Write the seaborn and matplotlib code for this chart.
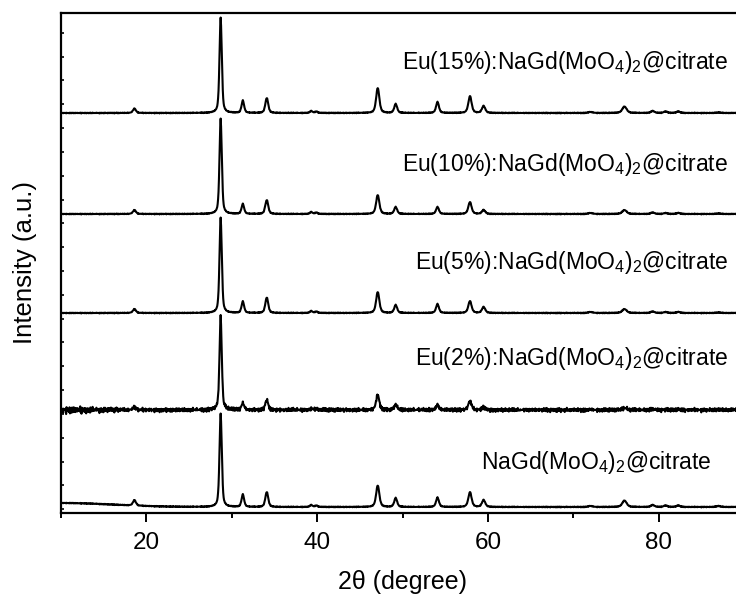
import numpy as np
import pandas as pd
import matplotlib
matplotlib.use("Agg")
import matplotlib.pyplot as plt
from matplotlib.ticker import FixedLocator, MultipleLocator, NullFormatter
import seaborn as sns

sns.set_theme(style="ticks")
plt.rcParams["font.family"] = ["Liberation Sans", "DejaVu Sans"]
plt.rcParams["mathtext.fontset"] = "custom"
plt.rcParams["mathtext.rm"] = "Liberation Sans"
plt.rcParams["mathtext.it"] = "Liberation Sans:italic"
plt.rcParams["mathtext.default"] = "regular"
for key in ["text.color", "axes.labelcolor", "xtick.color", "ytick.color",
            "axes.edgecolor"]:
    plt.rcParams[key] = "black"

# ---- data -------------------------------------------------------------
samples = [
    "NaGd(MoO$_4$)$_2$@citrate",
    "Eu(2%):NaGd(MoO$_4$)$_2$@citrate",
    "Eu(5%):NaGd(MoO$_4$)$_2$@citrate",
    "Eu(10%):NaGd(MoO$_4$)$_2$@citrate",
    "Eu(15%):NaGd(MoO$_4$)$_2$@citrate",
]
# vertical stacking offsets of each pattern
offsets = [6, 103, 200, 299, 400]

# reflections (2theta, degree) and their widths (FWHM, degree)
peak_pos = [18.6, 28.7, 31.3, 34.1, 39.3, 39.9, 47.1, 49.2, 54.1, 57.9,
            59.5, 72.0, 76.0, 79.3, 80.8, 82.3, 87.0]
peak_fwhm = [0.40, 0.32, 0.35, 0.40, 0.35, 0.35, 0.45, 0.40, 0.40, 0.45,
             0.45, 0.60, 0.60, 0.50, 0.50, 0.50, 0.60]

# peak intensities per sample (a.u.)
h_nagd = [5.5, 93, 12.5, 15, 2.0, 1.5, 21.5, 9, 9.5, 15, 7, 1.0, 6.5, 2.0, 1.5, 1.5, 1.0]
h_eu2 = [3.0, 93, 7.0, 10, 1.5, 1.0, 15.0, 5, 5.0, 9, 3, 0.5, 2.0, 1.0, 0.5, 0.5, 0.5]
h_eu5 = [4.0, 95, 11.5, 15.5, 2.0, 1.5, 21.0, 8, 9.0, 12, 6, 1.0, 4.0, 1.5, 1.0, 1.0, 0.5]
h_eu10 = [4.0, 95, 10.0, 14, 2.0, 1.5, 19.0, 7, 7.0, 12, 4, 1.0, 4.0, 1.5, 1.0, 1.0, 0.5]
h_eu15 = [4.4, 95, 12.4, 15, 2.0, 1.5, 25.0, 9, 11.0, 17, 7, 1.0, 6.5, 2.0, 1.5, 1.5, 0.5]
heights = [h_nagd, h_eu2, h_eu5, h_eu10, h_eu15]

# low-angle amorphous background height and counting noise level per sample
background = [4.0, 0.0, 0.0, 0.0, 0.0]
noise_level = [0.5, 2.4, 0.5, 0.5, 0.5]
noise_low_angle = [0.0, 2.6, 0.0, 0.0, 0.0]

# counting-statistics jitter (two tables of different length)
jitter_a = [0.3, -0.8, 0.5, 0.9, -0.4, -1.0, 0.2, 0.7, -0.6, 0.1, 0.95, -0.3,
            -0.85, 0.45, 0.05, -0.55, 0.8, -0.15, -0.95, 0.6, 0.25, -0.7, 0.4,
            0.85, -0.25, -0.6, 0.15, 1.0, -0.45, -0.05, 0.65, -0.9, 0.35, 0.1,
            -0.75, 0.55, 0.9, -0.35, -0.2, 0.75, -0.65, 0.0, 0.5, -1.0, 0.3,
            0.7, -0.5]
jitter_b = [-0.4, 0.6, 0.1, -0.9, 0.8, -0.2, 0.35, -0.65, 0.95, 0.0, -0.5,
            0.45, -0.8, 0.7, -0.1, 0.25, -0.95, 0.55, 0.15, -0.35, 0.85, -0.7,
            0.4, -0.05, 0.6, -0.55, 0.9, -0.3, 0.2, -0.85, 0.5, 0.05, -0.6,
            0.75, -0.15, 0.3, -1.0, 0.65, -0.45, 0.1, 0.8, -0.25, -0.75, 0.45,
            0.0, 0.95, -0.5, 0.2, -0.9, 0.55, -0.2, 0.35, 0.7, -0.65, 0.15,
            -0.4, 0.85, -0.1, 0.6, -0.8, 0.25]

x_min, x_max, x_step = 10.0, 90.0, 0.05
x_ticks = [20, 40, 60, 80]


def pattern(two_theta, h, bg, lvl, low):
    """Pseudo-Voigt profile sum plus background and counting noise."""
    y = np.zeros_like(two_theta)
    for c, w, a in zip(peak_pos, peak_fwhm, h):
        g = np.exp(-4 * np.log(2) * ((two_theta - c) / w) ** 2)
        lo = 1.0 / (1.0 + 4 * ((two_theta - c) / w) ** 2)
        y += a * (0.5 * g + 0.5 * lo)
    y += bg * np.exp(-((two_theta - x_min) / 6.0) ** 2 / 2)
    n = len(two_theta)
    ja = np.resize(np.array(jitter_a), n)
    jb = np.resize(np.array(jitter_b), n)
    amp = lvl + low * np.exp(-((two_theta - x_min) / 4.5) ** 2)
    y += amp * 0.5 * (ja + jb)
    return y


two_theta = np.arange(x_min, x_max + x_step / 2, x_step)
frames = []
for name, off, h, bg, lvl, low in zip(samples, offsets, heights, background,
                                      noise_level, noise_low_angle):
    frames.append(pd.DataFrame({
        "two_theta": two_theta,
        "intensity": off + pattern(two_theta, h, bg, lvl, low),
        "sample": name,
    }))
df = pd.concat(frames, ignore_index=True)

# ---- figure -----------------------------------------------------------
fig = plt.figure(figsize=(7.36, 6.03), dpi=100)
ax = fig.add_axes([61 / 736, 90 / 603, 683 / 736, 500 / 603])

sns.lineplot(data=df, x="two_theta", y="intensity", hue="sample",
             palette=["black"] * len(samples), estimator=None, sort=False,
             linewidth=1.5, legend=False, ax=ax)

ax.set_xlim(x_min, x_max)
ax.set_ylim(0, 500)

for s in ["left", "bottom", "top", "right"]:
    ax.spines[s].set_linewidth(1.6)
    ax.spines[s].set_color("black")

ax.xaxis.set_major_locator(FixedLocator(x_ticks))
ax.xaxis.set_minor_locator(MultipleLocator(10))
ax.tick_params(axis="x", which="major", direction="out", length=6.5,
               width=1.4, labelsize=17.5, color="black", labelcolor="black",
               pad=7)
ax.tick_params(axis="x", which="minor", direction="out", length=3.6,
               width=1.4, color="black")
ax.yaxis.set_major_locator(FixedLocator(np.linspace(3.7, 480.3, 21)))
ax.yaxis.set_major_formatter(NullFormatter())
ax.tick_params(axis="y", which="major", direction="in", length=1.8,
               width=1.2, color="black")

ax.set_xlabel("2\u03b8 (degree)", fontsize=18, labelpad=12, color="black")
ax.set_ylabel("Intensity (a.u.)", fontsize=18.5, labelpad=14, color="black")

# sample names above each pattern
label_right = [712, 728, 728, 728, 728]
label_y = [462, 358, 262, 165, 63]
for name, xr, yc in zip(samples, label_right, label_y):
    fig.text(xr / 736, 1 - yc / 603, name, ha="right", va="center",
             fontsize=16.5, color="black")

fig.savefig("out.png", dpi=100)
